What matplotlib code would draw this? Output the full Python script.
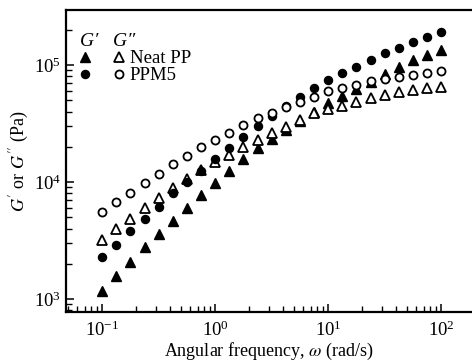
import numpy as np
import matplotlib
matplotlib.use("Agg")
from matplotlib import pyplot as plt
from matplotlib.legend_handler import HandlerTuple

plt.rcParams['font.family'] = ['Liberation Serif', 'DejaVu Serif']
plt.rcParams['mathtext.fontset'] = 'stix'

# Angular frequency (rad/s), 8 points per decade
omega = np.array([0.1, 0.1334, 0.1778, 0.2371, 0.3162, 0.4217, 0.5623, 0.7499,
                  1.0, 1.334, 1.778, 2.371, 3.162, 4.217, 5.623, 7.499,
                  10.0, 13.34, 17.78, 23.71, 31.62, 42.17, 56.23, 74.99, 100.0])

# Neat PP
neat_g1 = np.array([1170, 1570, 2070, 2780, 3590, 4640, 6000, 7740,
                    9800, 12400, 15700, 19500, 23300, 27800, 33200, 39600,
                    47300, 54300, 62400, 71600, 83800, 96100, 110000, 122000, 134000])
neat_g2 = np.array([3190, 3960, 4830, 6000, 7300, 8890, 10600, 12700,
                    14800, 17000, 19900, 22900, 26200, 29500, 33900, 38900,
                    42100, 44600, 48300, 52200, 55400, 58800, 61100, 63600, 64800])

# PPM5
ppm_g1 = np.array([2290, 2900, 3810, 4830, 6110, 8050, 10000, 12400,
                   15700, 19500, 24300, 30100, 36600, 44600, 53300, 63600,
                   74400, 85400, 96100, 110000, 127000, 140000, 157000, 173000, 191000])
ppm_g2 = np.array([5540, 6750, 8050, 9800, 11700, 14300, 16700, 19900,
                   22900, 26200, 30700, 35200, 38900, 43700, 48300, 53300,
                   59900, 63600, 67500, 73000, 75900, 78900, 82100, 85400, 88900])

fig = plt.figure(figsize=(4.72, 3.63), dpi=100)
ax = fig.add_axes([0.140, 0.1405, 0.86, 0.832])

ms_tri = 6.8
ms_cir = 5.8
h1, = ax.plot(omega, neat_g1, linestyle='none', marker='^', ms=ms_tri,
              color='black', mfc='black')
h2, = ax.plot(omega, neat_g2, linestyle='none', marker='^', ms=ms_tri,
              color='black', mfc='white', mew=1.3)
h3, = ax.plot(omega, ppm_g1, linestyle='none', marker='o', ms=ms_cir,
              color='black', mfc='black')
h4, = ax.plot(omega, ppm_g2, linestyle='none', marker='o', ms=ms_cir,
              color='black', mfc='white', mew=1.3)

ax.set_xscale('log')
ax.set_yscale('log')
ax.set_xlim(0.048, 187)
ax.set_ylim(774, 2.95e5)

ax.spines['right'].set_visible(False)
for s in ['left', 'bottom', 'top']:
    ax.spines[s].set_linewidth(1.6)

ax.tick_params(which='both', direction='in', top=False, right=False,
               labelsize=13.5)
ax.tick_params(which='major', length=6, width=1.1)
ax.tick_params(which='minor', length=4, width=1.0)
ax.tick_params(axis='x', pad=6)

ax.set_xlabel(r"Angular frequency, $\omega$ (rad/s)", fontsize=13, labelpad=1)
ax.set_ylabel(r"$G'$ or $G''$ (Pa)", fontsize=13, labelpad=2)

leg = ax.legend([(h1, h2), (h3, h4)], ["Neat PP", "PPM5"],
                handler_map={tuple: HandlerTuple(ndivide=None, pad=1.3)},
                title="G\u2032   G\u2033",
                title_fontproperties={'style': 'italic', 'size': 14},
                alignment='left',
                loc='upper left', bbox_to_anchor=(0.03, 0.93),
                frameon=False, fontsize=13.5, handlelength=2.3,
                handletextpad=0.35, labelspacing=0.0, borderaxespad=0,
                borderpad=0.1)

fig.savefig("out.png", dpi=100)
